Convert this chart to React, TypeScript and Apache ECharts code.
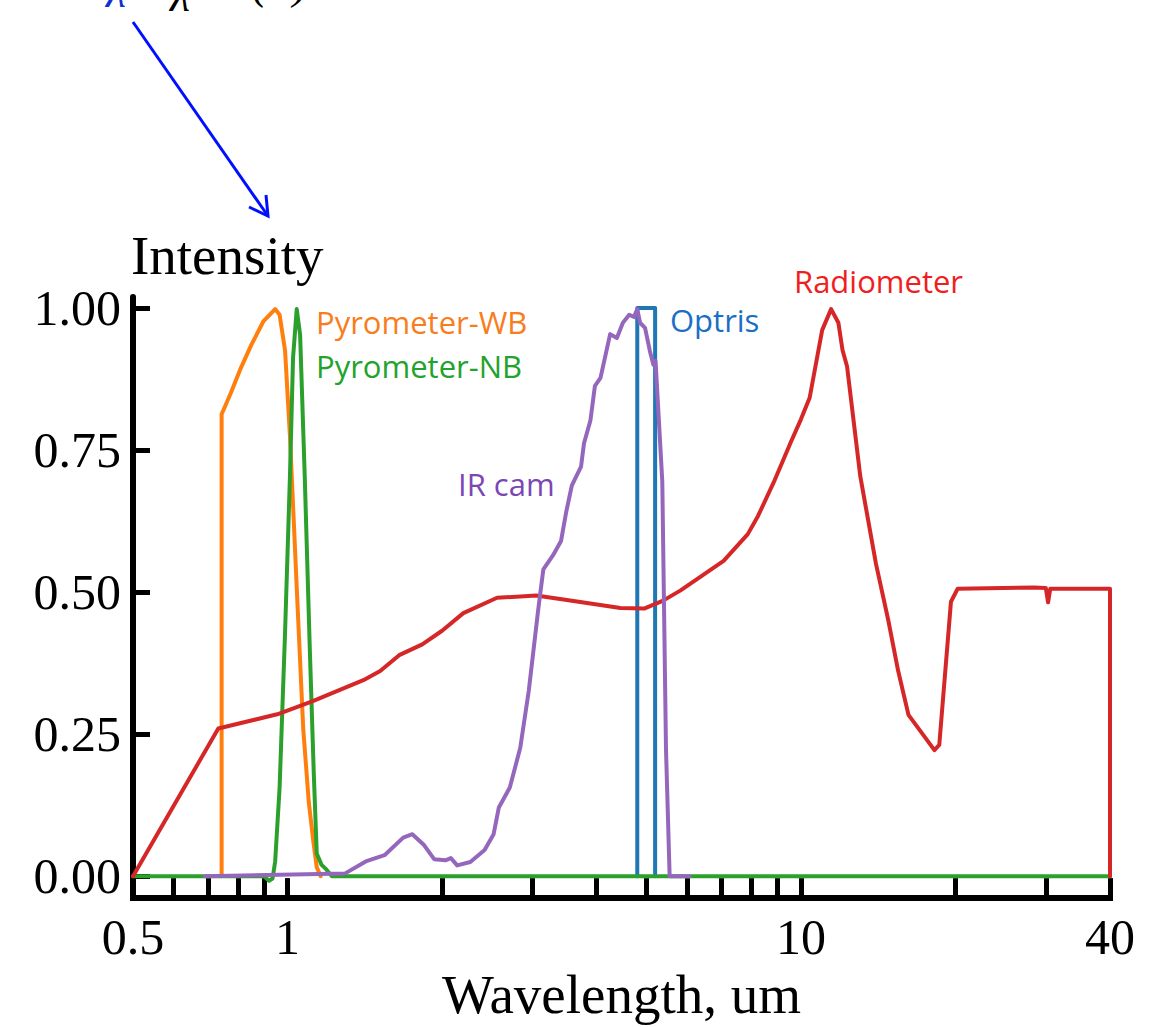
import React, { useEffect, useRef } from 'react';
import * as echarts from 'echarts';

// ---- data (wavelength in um, normalized intensity) ----
const optris: [number, number][] = [
  [4.8, 0], [4.8, 1.0], [5.2, 1.0], [5.2, 0],
];

const pyrometerWB: [number, number][] = [
  [0.744, 0], [0.744, 0.813], [0.775, 0.85], [0.808, 0.891], [0.85, 0.935], [0.898, 0.977],
  [0.946, 0.998], [0.965, 0.988], [0.989, 0.925], [1.011, 0.774], [1.043, 0.5],
  [1.073, 0.259], [1.1, 0.13], [1.123, 0.06], [1.14, 0.016], [1.16, 0],
];

const pyrometerNB: [number, number][] = [
  [0.5, 0], [0.9, 0], [0.92, -0.008], [0.935, -0.004], [0.946, 0.026], [0.965, 0.156],
  [0.989, 0.43], [1.011, 0.706], [1.025, 0.912], [1.042, 0.998], [1.058, 0.953],
  [1.08, 0.706], [1.105, 0.4], [1.125, 0.18], [1.14, 0.04], [1.165, 0.02], [1.19, 0.012],
  [1.22, 0], [40, 0],
];

const radiometer: [number, number][] = [
  [0.5, 0], [0.733, 0.26], [0.955, 0.285], [1.12, 0.308], [1.405, 0.345], [1.515, 0.361],
  [1.65, 0.389], [1.83, 0.408], [2.0, 0.432], [2.2, 0.463], [2.56, 0.49], [3.05, 0.494],
  [3.5, 0.486], [4.45, 0.472], [4.95, 0.471], [5.39, 0.485], [5.83, 0.503], [7.07, 0.555],
  [7.88, 0.602], [8.25, 0.634], [8.85, 0.693], [9.56, 0.764], [10.0, 0.804], [10.4, 0.842],
  [11.0, 0.961], [11.45, 0.998], [11.83, 0.974], [12.05, 0.926], [12.3, 0.897],
  [13.05, 0.704], [14.0, 0.55], [14.8, 0.45], [15.47, 0.361], [16.2, 0.284], [18.2, 0.222],
  [18.6, 0.231], [19.6, 0.483], [20.2, 0.506], [28.4, 0.508], [30.0, 0.507], [30.3, 0.482],
  [30.6, 0.506], [40, 0.506], [40, 0],
];

const irCam: [number, number][] = [
  [0.69, 0], [1.295, 0.005], [1.42, 0.026], [1.545, 0.037], [1.68, 0.068], [1.75, 0.074],
  [1.84, 0.056], [1.93, 0.03], [2.03, 0.028], [2.08, 0.032], [2.14, 0.019], [2.27, 0.025],
  [2.42, 0.046], [2.52, 0.074], [2.58, 0.121], [2.71, 0.156], [2.84, 0.226], [2.95, 0.326],
  [3.08, 0.471], [3.15, 0.54], [3.3, 0.567], [3.41, 0.59], [3.49, 0.641], [3.58, 0.688],
  [3.73, 0.721], [3.78, 0.762], [3.89, 0.802], [3.97, 0.863], [4.07, 0.877], [4.25, 0.954],
  [4.38, 0.947], [4.5, 0.974], [4.63, 0.988], [4.73, 0.984], [4.8, 0.998], [4.86, 0.974],
  [4.97, 0.965], [5.08, 0.924], [5.16, 0.9], [5.21, 0.907], [5.37, 0.695], [5.46, 0.223],
  [5.55, 0], [6.07, 0],
];

const xTickValues = [0.6, 0.7, 0.8, 0.9, 1, 2, 3, 4, 5, 6, 7, 8, 9, 10, 20, 30, 40];
const xLabelValues = [0.5, 1, 10, 40];
const yTickValues = [0, 0.25, 0.5, 0.75, 1];

const lineColors = {
  optris: '#1f77b4',
  wb: '#ff7f0e',
  nb: '#2ca02c',
  radiometer: '#d62728',
  ircam: '#9467bd',
};

const SERIF = '"Liberation Serif", "Times New Roman", serif';
const SANS = '"Open Sans", "Noto Sans", sans-serif';

export default function App() {
  const ref = useRef<HTMLDivElement>(null);

  useEffect(() => {
    document.body.style.margin = '0';
    const chart = echarts.init(ref.current!, null, { renderer: 'svg' });

    const mkLine = (name: string, data: [number, number][], color: string, z: number) => ({
      name,
      type: 'line',
      data,
      showSymbol: false,
      symbol: 'none',
      z,
      lineStyle: { color, width: 4, join: 'round', cap: 'round' },
      emphasis: { disabled: true },
    });

    const label = (text: string, x: number, y: number, fill: string) => ({
      type: 'text',
      x,
      y,
      style: {
        text,
        fill,
        font: `31px ${SANS}`,
        textAlign: 'left',
        textVerticalAlign: 'middle',
      },
      silent: true,
    });

    chart.setOption({
      animation: false,
      backgroundColor: '#ffffff',
      grid: { left: 133, right: 47, top: 297, bottom: 126, containLabel: false },
      xAxis: {
        type: 'log',
        logBase: 10,
        min: 0.5,
        max: 40,
        name: 'Wavelength, um',
        nameLocation: 'middle',
        nameGap: 62,
        nameTextStyle: { fontFamily: SERIF, fontSize: 55, color: '#000' },
        axisLine: { show: true, onZero: false, lineStyle: { color: '#000', width: 6, cap: 'square' } },
        axisTick: {
          show: true,
          inside: true,
          length: 20,
          customValues: xTickValues,
          lineStyle: { color: '#000', width: 5 },
        },
        minorTick: { show: false },
        axisLabel: {
          show: true,
          customValues: xLabelValues,
          formatter: (v: number) => String(+Number(v).toPrecision(3)),
          fontFamily: SERIF,
          fontSize: 50,
          color: '#000',
          margin: 14,
        },
        splitLine: { show: false },
      },
      yAxis: {
        type: 'value',
        min: -0.0385,
        max: 1.0193,
        axisLine: { show: true, onZero: false, lineStyle: { color: '#000', width: 6 } },
        axisTick: {
          show: true,
          inside: true,
          length: 17,
          customValues: yTickValues,
          lineStyle: { color: '#000', width: 5 },
        },
        axisLabel: {
          show: true,
          customValues: yTickValues,
          formatter: (v: number) => Number(v).toFixed(2),
          fontFamily: SERIF,
          fontSize: 50,
          color: '#000',
          margin: 12,
        },
        splitLine: { show: false },
      },
      series: [
        mkLine('Optris', optris, lineColors.optris, 2),
        mkLine('Pyrometer-WB', pyrometerWB, lineColors.wb, 3),
        mkLine('Pyrometer-NB', pyrometerNB, lineColors.nb, 4),
        mkLine('Radiometer', radiometer, lineColors.radiometer, 5),
        mkLine('IR cam', irCam, lineColors.ircam, 6),
      ],
      graphic: [
        {
          type: 'text',
          x: 131,
          y: 255,
          style: {
            text: 'Intensity',
            fill: '#000',
            font: `55px ${SERIF}`,
            textAlign: 'left',
            textVerticalAlign: 'middle',
          },
          silent: true,
        },
        label('Pyrometer-WB', 316, 322, '#f97d1c'),
        label('Pyrometer-NB', 316, 366, '#22a32b'),
        label('Optris', 670, 320, '#1a6fc4'),
        label('IR cam', 458, 484, '#7c46b3'),
        label('Radiometer', 794, 281, '#f01e1e'),
        // annotation formula, cut off at the top edge as in the reference
        {
          type: 'text', x: 106, y: -9,
          style: { text: 'λ', fill: '#1030d0', font: `italic 46px ${SERIF}`, textAlign: 'left', textVerticalAlign: 'middle' },
          silent: true,
        },
        {
          type: 'text', x: 140, y: -22,
          style: { text: '=', fill: '#000', font: `46px ${SERIF}`, textAlign: 'left', textVerticalAlign: 'middle' },
          silent: true,
        },
        {
          type: 'text', x: 170, y: -5,
          style: { text: 'λ', fill: '#000', font: `italic 46px ${SERIF}`, textAlign: 'left', textVerticalAlign: 'middle' },
          silent: true,
        },
        {
          type: 'text', x: 252, y: -18,
          style: { text: '(T)', fill: '#000', font: `italic 46px ${SERIF}`, textAlign: 'left', textVerticalAlign: 'middle' },
          silent: true,
        },
        // blue arrow
        {
          type: 'line',
          shape: { x1: 133, y1: 22, x2: 268, y2: 216 },
          style: { stroke: '#0010ff', lineWidth: 3 },
          silent: true,
        },
        {
          type: 'polyline',
          shape: { points: [[249, 207], [268, 216], [266, 195]] },
          style: { stroke: '#0010ff', lineWidth: 3, fill: null },
          silent: true,
        },
      ],
    });

    return () => chart.dispose();
  }, []);

  return <div ref={ref} style={{ width: 1157, height: 1027 }} />;
}
